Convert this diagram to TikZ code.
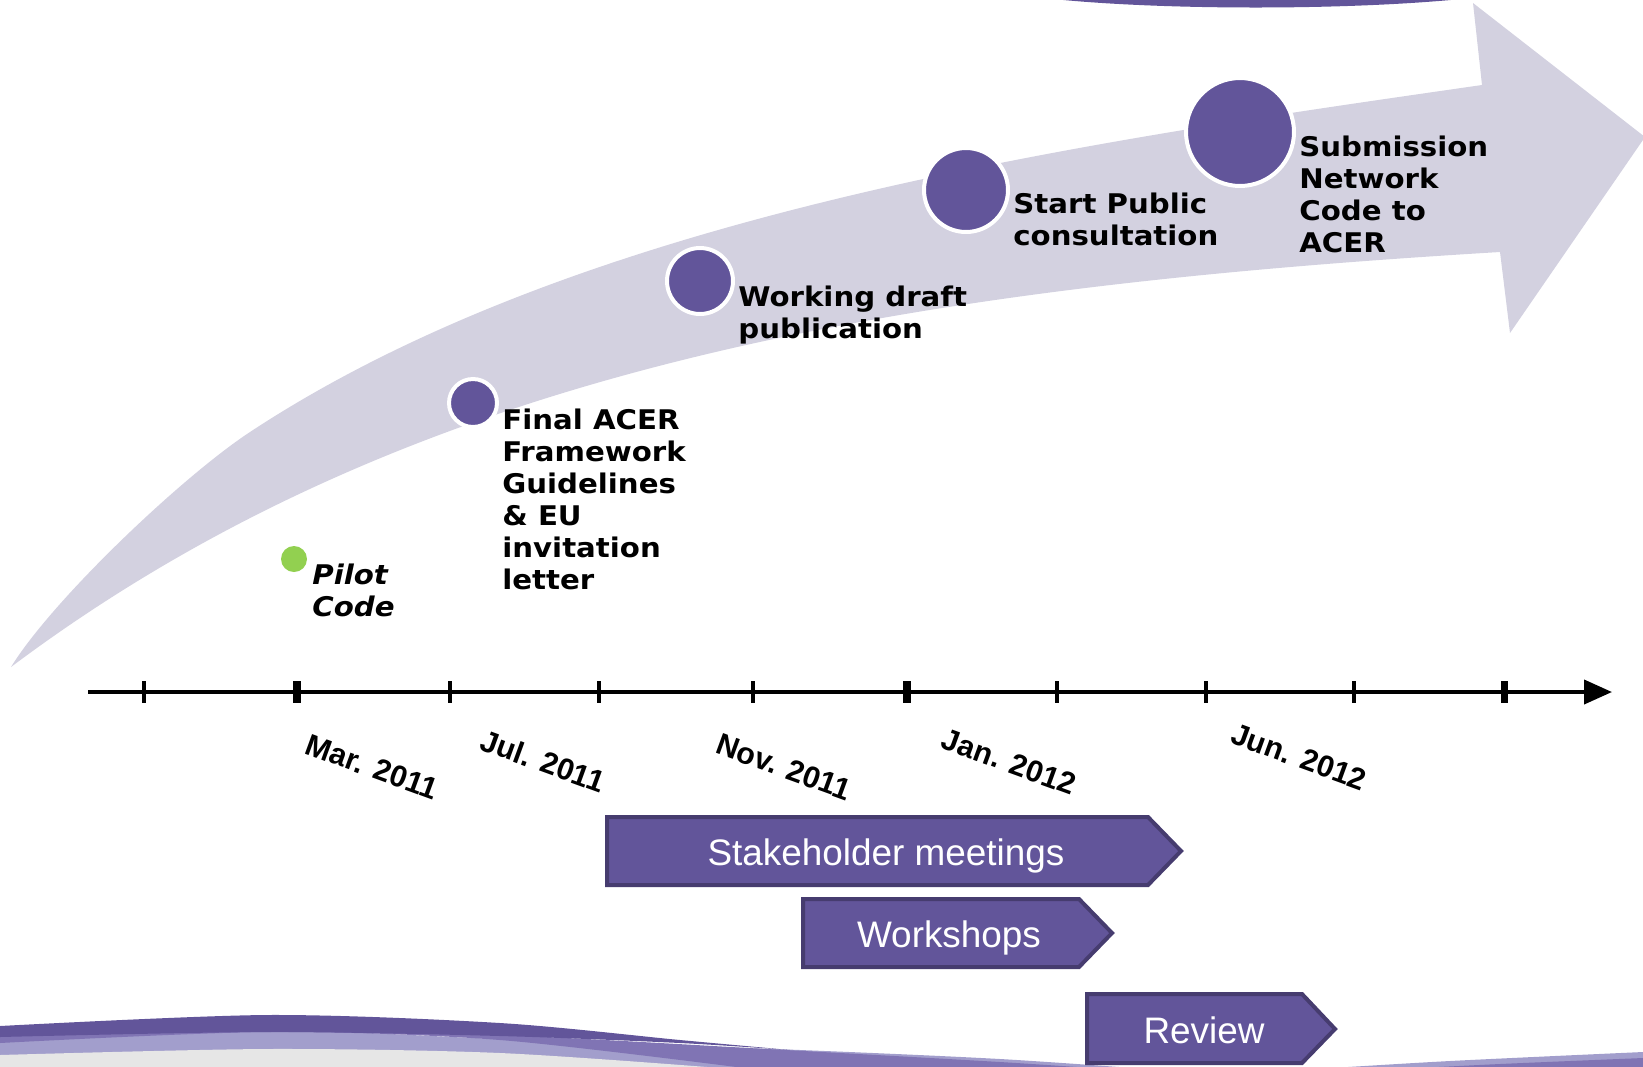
\documentclass[tikz,border=0pt]{standalone}
\usepackage{fontspec}
\usetikzlibrary{arrows.meta}
\newfontfamily\milefont{DejaVu Sans}[FakeStretch=1.08]
\newfontfamily\datefont{Liberation Sans}
\definecolor{bandgray}{HTML}{D3D1E0}
\definecolor{acerpurple}{HTML}{62559A}
\definecolor{acerdark}{HTML}{463C6F}
\definecolor{pilotgreen}{HTML}{92D050}
\definecolor{wavelight}{HTML}{A29ECC}
\definecolor{wavemid}{HTML}{8074B4}
\definecolor{footgray}{HTML}{E6E6E6}

\begin{document}
\begin{tikzpicture}[x=0.02cm,y=-0.02cm]
  \tikzset{
    milestone/.style={circle,fill=acerpurple,draw=white,line width=0.08cm,inner sep=0pt},
    mile text/.style={anchor=north west,inner sep=0pt,align=left,
      font=\milefont\bfseries\fontsize{15.4}{18.2}\selectfont},
    pilot text/.style={mile text,font=\milefont\bfseries\itshape\fontsize{15.4}{18.2}\selectfont},
    date/.style={rotate=-20,inner sep=0pt,font=\datefont\bfseries\fontsize{17.3}{20}\selectfont},
    stage/.style={fill=acerpurple,draw=acerdark,line width=0.08cm,line join=miter},
    stage text/.style={anchor=base,text=white,inner sep=0pt,font=\datefont\fontsize{21}{25}\selectfont},
    thin tick/.style={line width=2pt},
    thick tick/.style={line width=4pt}
  }
  \useasboundingbox (0,0) rectangle (1643,1066);

  % slide decoration, top and bottom
  \fill[acerpurple] (1035,-3) .. controls (1150,11) and (1360,11) .. (1480,-3) -- cycle;
  \fill[wavelight] plot[smooth] coordinates {(0,1037) (267,1030) (520,1040) (800,1050) (1000,1059) (1160,1070)} -- (0,1070) -- cycle;
  \fill[wavelight] plot[smooth] coordinates {(1300,1070) (1450,1061) (1643,1052)} -- (1643,1070) -- cycle;
  \fill[wavemid] plot[smooth] coordinates {(1380,1070) (1500,1064) (1643,1058)} -- (1643,1070) -- cycle;
  \fill[footgray] plot[smooth] coordinates {(0,1055) (267,1049) (500,1053) (720,1068)} -- (0,1070) -- cycle;
  \fill[wavemid] plot[smooth] coordinates {(0,1036) (267,1031) (500,1035) (767,1049) (1000,1062) (1120,1070)}
    -- plot[smooth] coordinates {(760,1070) (500,1040) (267,1032) (0,1043)} -- cycle;
  \fill[acerpurple] plot[smooth] coordinates {(0,1026) (267,1015) (500,1023) (680,1040) (790,1050)}
    -- plot[smooth] coordinates {(790,1050) (680,1043) (500,1036) (267,1032) (0,1037)} -- cycle;

  % the big curved arrow
  \fill[bandgray] (11,667) .. controls (53,599) and (183,476) .. (250,432)
    .. controls (584,212) and (1086,142) .. (1482,85)
    -- (1473,3) -- (1645,137) -- (1510,333) -- (1500,252)
    .. controls (900,288) and (411,367) .. (11,667) -- cycle;

  % milestones
  \node[circle,fill=pilotgreen,minimum size=0.52cm,inner sep=0pt] (pilot) at (294,559) {};
  \node[milestone,minimum size=0.96cm] (guidelines) at (473,403) {};
  \node[milestone,minimum size=1.32cm] (draft) at (700,281) {};
  \node[milestone,minimum size=1.68cm] (consult) at (966,190) {};
  \node[milestone,minimum size=2.16cm] (submit) at (1240,132) {};

  \node[pilot text] (pilot text) at (312,564) {Pilot\\Code};
  \node[mile text] (guidelines text) at (502,409) {Final ACER\\Framework\\Guidelines\\\& EU\\invitation\\letter};
  \node[mile text] (draft text) at (738,286) {Working draft\\publication};
  \node[mile text] (consult text) at (1013,193) {Start Public\\consultation};
  \node[mile text] (submit text) at (1299,136) {Submission\\Network\\Code to\\ACER};

  % time axis
  \coordinate (axis start) at (88,692);
  \coordinate (axis end) at (1612,692);
  \draw[line width=0.08cm,-{Triangle[length=0.56cm,width=0.48cm]}] (axis start) -- (axis end);
  \foreach \x in {144,450,599,753,1057,1206,1354}
    \draw[thin tick] (\x,681) -- (\x,703);
  \foreach \x in {297,907,1504}
    \draw[thick tick] (\x,681) -- (\x,703);

  \node[date] (mar) at (372,767) {Mar. 2011};
  \node[date] (jul) at (543,761) {Jul. 2011};
  \node[date] (nov) at (784,767) {Nov. 2011};
  \node[date] (jan) at (1009,762) {Jan. 2012};
  \node[date] (jun) at (1299,757) {Jun. 2012};

  % phases
  \draw[stage] (607,817) -- (1148,817) -- (1181,851) -- (1148,885) -- (607,885) -- cycle;
  \node[stage text] (meetings) at (886,865) {Stakeholder meetings};
  \draw[stage] (803,899) -- (1079,899) -- (1112,933) -- (1079,967) -- (803,967) -- cycle;
  \node[stage text] (workshops) at (949,947) {Workshops};
  \draw[stage] (1087,994) -- (1302,994) -- (1335,1029) -- (1302,1063) -- (1087,1063) -- cycle;
  \node[stage text] (review) at (1204,1043) {Review};
\end{tikzpicture}
\end{document}
